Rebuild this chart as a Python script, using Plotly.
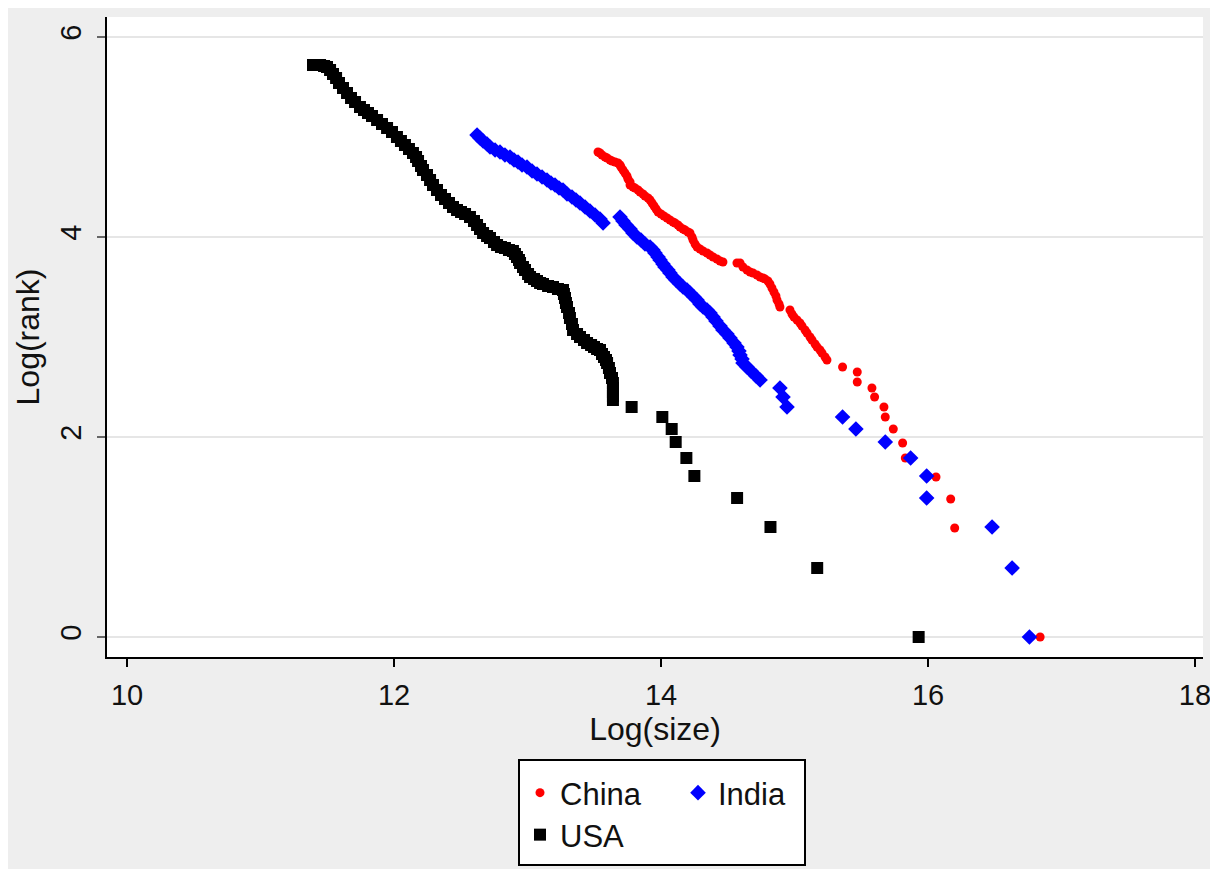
import plotly.graph_objects as go

# ---------------- data ----------------
china_x = [16.84, 16.63, 16.20, 16.17, 16.06, 15.83, 15.81, 15.74, 15.68, 15.67, 15.60, 15.58, 15.47, 15.47, 15.36,
           15.243, 15.229, 15.206, 15.191, 15.169, 15.154, 15.131, 15.116, 15.094, 15.079, 15.056, 15.041, 15.019,
           14.996, 14.981, 14.966,
           14.891, 14.884, 14.869, 14.861, 14.846, 14.831, 14.816, 14.801, 14.779, 14.764, 14.742, 14.719, 14.689,
           14.667, 14.644, 14.614, 14.592, 14.569,
           14.464, 14.442, 14.419, 14.390, 14.367, 14.345, 14.315, 14.292, 14.270, 14.255, 14.240, 14.232, 14.217,
           14.202, 14.180, 14.165, 14.142, 14.127, 14.105, 14.090, 14.067, 14.045, 14.022, 14.000, 13.978, 13.963,
           13.948, 13.933, 13.918, 13.903, 13.880, 13.865, 13.843, 13.828, 13.805, 13.790, 13.768, 13.768, 13.753,
           13.745, 13.730, 13.715, 13.700, 13.693, 13.678, 13.655, 13.633, 13.618, 13.596, 13.581, 13.558, 13.543,
           13.528]
china_y = [0.00, 0.69, 1.09, 1.38, 1.60, 1.79, 1.94, 2.08, 2.20, 2.30, 2.40, 2.49, 2.55, 2.65, 2.70,
           2.77, 2.80, 2.84, 2.87, 2.90, 2.93, 2.97, 3.00, 3.04, 3.07, 3.11, 3.14, 3.17,
           3.20, 3.23, 3.27,
           3.30, 3.33, 3.37, 3.41, 3.45, 3.49, 3.53, 3.56, 3.58, 3.59, 3.60, 3.62, 3.64,
           3.65, 3.67, 3.70, 3.74, 3.74,
           3.75, 3.76, 3.78, 3.80, 3.82, 3.84, 3.86, 3.88, 3.90, 3.93, 3.97, 4.00, 4.04,
           4.05, 4.07, 4.08, 4.10, 4.12, 4.14, 4.15, 4.17, 4.19, 4.21, 4.23, 4.25, 4.28,
           4.31, 4.34, 4.37, 4.39, 4.41, 4.43, 4.45, 4.47, 4.49, 4.50, 4.52, 4.55, 4.58,
           4.61, 4.64, 4.67, 4.70, 4.72, 4.74, 4.75, 4.76, 4.77, 4.79, 4.80, 4.82, 4.84,
           4.85]

india_x = [16.76, 16.63, 16.48, 15.99, 15.99, 15.87, 15.68, 15.46, 15.36, 14.944, 14.914, 14.891,
           14.742, 14.712, 14.674, 14.644, 14.614, 14.607, 14.592, 14.584, 14.569, 14.547, 14.517, 14.494,
           14.464, 14.442, 14.412, 14.390, 14.367, 14.345, 14.315, 14.292, 14.270, 14.247, 14.217, 14.195,
           14.165, 14.142, 14.112, 14.090, 14.067, 14.052, 14.030, 14.015, 13.993, 13.978, 13.955, 13.940,
           13.918, 13.880, 13.850, 13.820, 13.790, 13.768, 13.738, 13.715, 13.693,
           13.566, 13.543, 13.506, 13.468, 13.431, 13.393, 13.363, 13.333, 13.296, 13.266, 13.236, 13.206,
           13.176, 13.146, 13.109, 13.071, 13.034, 12.996, 12.959, 12.929, 12.899, 12.869, 12.831, 12.794,
           12.757, 12.719, 12.697, 12.667, 12.644, 12.622]
india_y = [0.00, 0.69, 1.10, 1.39, 1.61, 1.79, 1.95, 2.08, 2.20, 2.30, 2.40, 2.49,
           2.57, 2.61, 2.66, 2.70, 2.74, 2.78, 2.82, 2.86, 2.90, 2.94, 2.99, 3.03,
           3.07, 3.11, 3.16, 3.20, 3.24, 3.27, 3.30, 3.33, 3.37, 3.40, 3.44, 3.47,
           3.50, 3.53, 3.57, 3.60, 3.64, 3.67, 3.70, 3.73, 3.77, 3.80, 3.84, 3.87,
           3.90, 3.93, 3.97, 4.00, 4.04, 4.08, 4.12, 4.16, 4.20,
           4.14, 4.18, 4.22, 4.26, 4.30, 4.34, 4.37, 4.40, 4.43, 4.47, 4.49, 4.52,
           4.54, 4.57, 4.60, 4.63, 4.66, 4.70, 4.72, 4.75, 4.77, 4.80, 4.82, 4.85,
           4.87, 4.90, 4.93, 4.96, 4.99, 5.02]

usa_x = [15.93, 15.17, 14.82, 14.57, 14.25, 14.19, 14.11, 14.08, 14.01, 13.78,
         13.640, 13.640, 13.640, 13.640, 13.640, 13.633, 13.618, 13.610, 13.596, 13.588, 13.573, 13.558,
         13.543, 13.521, 13.498, 13.476, 13.446, 13.423, 13.393, 13.371, 13.341, 13.333, 13.318, 13.311,
         13.296, 13.288, 13.281, 13.273, 13.266, 13.228, 13.191, 13.154, 13.116, 13.094, 13.071, 13.049,
         13.019, 13.004, 12.981, 12.966, 12.944, 12.936, 12.921, 12.906, 12.891, 12.861, 12.831, 12.801,
         12.772, 12.749, 12.719, 12.697, 12.667, 12.644, 12.622, 12.599, 12.569, 12.532, 12.502, 12.472,
         12.442, 12.412, 12.382, 12.352, 12.322, 12.292, 12.270, 12.247, 12.217, 12.202, 12.180, 12.165,
         12.142, 12.112, 12.082, 12.052, 12.022, 11.985, 11.948, 11.910, 11.873, 11.835, 11.805, 11.775,
         11.745, 11.708, 11.678, 11.648, 11.618, 11.588, 11.566, 11.543, 11.521, 11.498, 11.476, 11.446,
         11.416, 11.393]
usa_y = [0.00, 0.69, 1.10, 1.39, 1.61, 1.79, 1.95, 2.08, 2.20, 2.30,
         2.37, 2.41, 2.45, 2.49, 2.54, 2.59, 2.64, 2.69, 2.74, 2.77, 2.80, 2.83,
         2.87, 2.88, 2.90, 2.92, 2.94, 2.97, 3.00, 3.03, 3.07, 3.13, 3.19, 3.24,
         3.30, 3.34, 3.39, 3.43, 3.47, 3.48, 3.50, 3.51, 3.53, 3.54, 3.56, 3.58,
         3.60, 3.63, 3.67, 3.70, 3.74, 3.77, 3.80, 3.83, 3.86, 3.87, 3.89, 3.90,
         3.92, 3.95, 3.99, 4.01, 4.04, 4.08, 4.12, 4.16, 4.20, 4.23, 4.25, 4.27,
         4.30, 4.34, 4.38, 4.42, 4.47, 4.52, 4.57, 4.62, 4.67, 4.71, 4.76, 4.80,
         4.84, 4.88, 4.92, 4.96, 5.00, 5.05, 5.09, 5.13, 5.17, 5.21, 5.24, 5.27,
         5.30, 5.35, 5.39, 5.44, 5.49, 5.54, 5.59, 5.63, 5.67, 5.70, 5.71, 5.72,
         5.72, 5.72]

x_ticks = [10, 12, 14, 16, 18]
y_ticks = [0, 2, 4, 6]

# ---------------- figure ----------------
FONT = "Liberation Sans, Arial, sans-serif"
W, H = 1202, 861          # page adds an 8px body margin around the figure
L, R, T, B = 99, 7, 9, 212
pw, ph = W - L - R, H - T - B
OFF = 8                   # body margin offset (screen px -> figure px)


def sx(p):  # screen x pixel -> paper x
    return (p - OFF - L) / pw


def sy(p):  # screen y pixel -> paper y
    return (H - B - (p - OFF)) / ph


fig = go.Figure()
fig.add_trace(go.Scatter(x=china_x, y=china_y, mode="markers", name="China",
                         marker=dict(symbol="circle", size=9, color="#ff0000", line=dict(width=0)),
                         legend="legend"))
fig.add_trace(go.Scatter(x=india_x, y=india_y, mode="markers", name="India",
                         marker=dict(symbol="diamond", size=12, color="#0000ff", line=dict(width=0)),
                         legend="legend"))
fig.add_trace(go.Scatter(x=usa_x, y=usa_y, mode="markers", name="USA",
                         marker=dict(symbol="square", size=12, color="#000000", line=dict(width=0)),
                         legend="legend2"))

shapes = [dict(type="rect", xref="paper", yref="paper",
               x0=sx(519), x1=sx(805), y0=sy(865), y1=sy(760),
               fillcolor="white", line=dict(color="black", width=2), layer="above")]

fig.update_layout(
    width=W, height=H,
    margin=dict(l=L, r=R, t=T, b=B, autoexpand=False),
    paper_bgcolor="#eeeeee",
    plot_bgcolor="white",
    font=dict(family=FONT, size=29, color="#111111"),
    shapes=shapes,
    xaxis=dict(range=[9.85, 18.06], tickvals=x_ticks, showgrid=False, zeroline=False,
               showline=True, linecolor="black", linewidth=2,
               ticks="outside", ticklen=8, tickwidth=2, tickcolor="black",
               tickfont=dict(size=29), ticklabelstandoff=3, ticklabeloverflow="allow",
               title=dict(text="Log(size)", font=dict(size=32), standoff=8)),
    yaxis=dict(range=[-0.2, 6.2], tickvals=y_ticks, showgrid=True, gridcolor="#e6e6e6", gridwidth=2,
               zeroline=False, showline=True, linecolor="black", linewidth=2,
               ticks="outside", ticklen=8, tickwidth=2, tickcolor="#666666",
               tickangle=-90, tickfont=dict(size=29), ticklabelstandoff=4,
               title=dict(text="Log(rank)", font=dict(size=32), standoff=6)),
    legend=dict(orientation="h", xref="container", yref="container",
                x=512 / W, xanchor="left", y=1 - 785 / H, yanchor="middle",
                bgcolor="rgba(0,0,0,0)", borderwidth=0, font=dict(size=31),
                entrywidth=113, entrywidthmode="pixels", traceorder="normal"),
    legend2=dict(orientation="h", xref="container", yref="container",
                 x=512 / W, xanchor="left", y=1 - 827 / H, yanchor="middle",
                 bgcolor="rgba(0,0,0,0)", borderwidth=0, font=dict(size=31)),
)

fig.write_html("out.html")
